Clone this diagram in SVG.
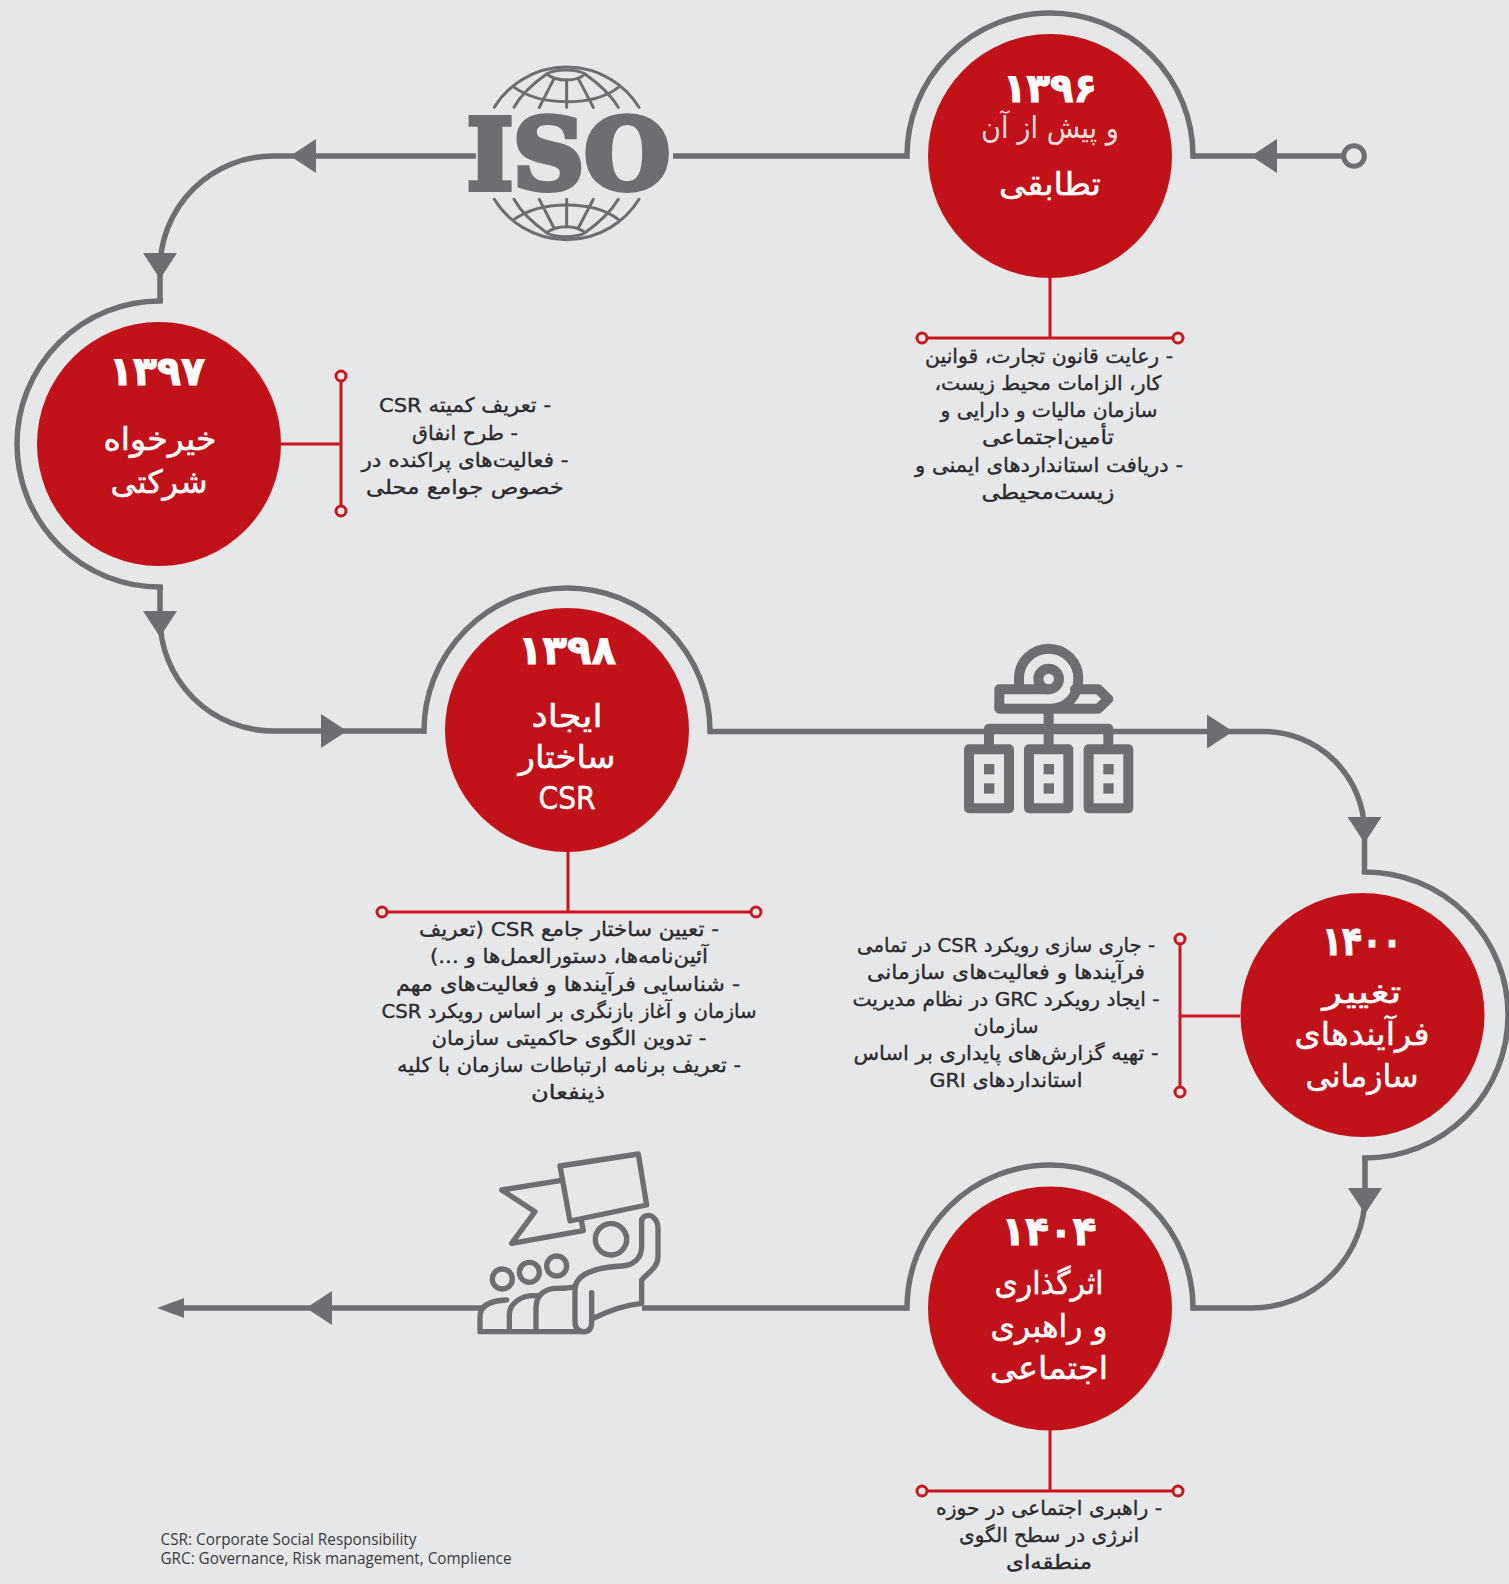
<svg xmlns="http://www.w3.org/2000/svg" width="1509" height="1584" viewBox="0 0 1509 1584">
<style>
.flow{fill:none;stroke:#6d6e71;stroke-width:5.5}
.arc{fill:none;stroke:#6d6e71;stroke-width:5.5;stroke-linecap:square}
.head{fill:#6d6e71}
.disc{fill:#c1121a}
.rl{fill:none;stroke:#c8161d;stroke-width:3}
.rd{fill:#e6e7e8;stroke:#c8161d;stroke-width:3}
text{font-family:"DejaVu Sans","Noto Sans",sans-serif}
.b{font-size:20px;fill:#2b2a2e;stroke:#2b2a2e;stroke-width:.35;direction:rtl;text-anchor:middle}
.t{font-size:32px;fill:#fff;stroke:#fff;stroke-width:.5;direction:rtl;text-anchor:middle}
.y{font-size:40px;font-weight:bold;fill:#fff;stroke:#fff;stroke-width:1;text-anchor:middle}
.l{font-size:30px;fill:#f7dcdd;direction:rtl;text-anchor:middle}
.n{font-family:"Open Sans","Noto Sans",sans-serif;font-size:15.5px;fill:#3a3a3c}
.ico{fill:none;stroke:#6d6e71;stroke-linejoin:round;stroke-linecap:round}
.sq{fill:#6d6e71}
</style>
<defs>
<path id="ah" d="M0 0L-26-17V17Z"/>
</defs>
<rect width="1509" height="1584" fill="#e6e7e8"/>

<g id="connectors">
<path class="flow" d="M1193 156H1345"/>
<path class="flow" d="M673 156H907"/>
<path class="flow" d="M476 156H273A113 113 0 0 0 160 269V303"/>
<path class="flow" d="M160 585V618A113 113 0 0 0 273 731H426"/>
<path class="flow" d="M708 731.5H1263A101 101 0 0 1 1364.500 832V874"/>
<path class="flow" d="M1365 1156V1195A113 113 0 0 1 1252 1308H1193"/>
<path class="flow" d="M907 1308H642M483 1308H166"/>
<use href="#ah" class="head" transform="translate(1251 156) rotate(180)"/>
<use href="#ah" class="head" transform="translate(290 156) rotate(180)"/>
<use href="#ah" class="head" transform="translate(160 279) rotate(90)"/>
<use href="#ah" class="head" transform="translate(160 637) rotate(90)"/>
<use href="#ah" class="head" transform="translate(347 731)"/>
<use href="#ah" class="head" transform="translate(1233 731.500)"/>
<use href="#ah" class="head" transform="translate(1364.500 843) rotate(90)"/>
<use href="#ah" class="head" transform="translate(1365 1214) rotate(90)"/>
<use href="#ah" class="head" transform="translate(306 1308) rotate(180)"/>
<path class="head" d="M157 1308L184 1298V1318Z"/>
<circle cx="1354" cy="156" r="10.3" fill="#e6e7e8" stroke="#6d6e71" stroke-width="5"/>
</g>

<g id="iso">
<g class="ico" transform="translate(440 50) scale(.3333)" stroke-width="9" stroke-linecap="butt">
<g>
<path d="M163 172A255 255 0 0 1 597 172"/>
<path d="M320 72C350 96 410 96 435 72M320 72C345 56 410 56 435 72"/>
<path d="M220 110C300 170 460 170 535 112"/>
<path d="M380 90V172M342 86L298 172M415 86L460 172M320 72C280 100 245 130 222 172M435 72C475 100 510 130 535 172"/>
</g>
<g transform="translate(0 620) scale(1 -1)">
<path d="M163 172A255 255 0 0 1 597 172"/>
<path d="M320 72C350 96 410 96 435 72M320 72C345 56 410 56 435 72"/>
<path d="M220 110C300 170 460 170 535 112"/>
<path d="M380 90V172M342 86L298 172M415 86L460 172M320 72C280 100 245 130 222 172M435 72C475 100 510 130 535 172"/>
</g>
</g>
<text x="568.5" y="189" font-weight="bold" font-size="97" fill="#6d6e71" stroke="#6d6e71" stroke-width="6" stroke-linejoin="miter" text-anchor="middle" textLength="203" lengthAdjust="spacingAndGlyphs" style="font-family:'DejaVu Serif',serif">ISO</text>
</g>

<g id="icon-org" transform="translate(940 630) scale(.3333)">
<g class="ico" stroke-width="30" stroke-linecap="butt" stroke-linejoin="miter">
<path d="M237 178V145A89 89 0 1 1 415 145C415 200 380 236 330 236H178V178H326"/>
<circle cx="326" cy="147" r="31"/>
<path d="M405 178H475L505 207L475 236H345"/>
<path d="M326 250V296M147 343V296H505V343M326 296V343"/>
<rect x="87" y="358" width="120" height="177"/>
<rect x="267" y="358" width="118" height="177"/>
<rect x="446" y="358" width="119" height="177"/>
</g>
<g class="sq">
<rect x="132" y="402" width="31" height="31"/><rect x="132" y="460" width="31" height="31"/>
<rect x="311" y="402" width="31" height="31"/><rect x="311" y="460" width="31" height="31"/>
<rect x="490" y="402" width="31" height="31"/><rect x="490" y="460" width="31" height="31"/>
</g>
</g>

<g id="icon-people" transform="translate(460 1140) scale(.3333)">
<g class="ico" stroke-width="16">
<path d="M300 78L535 42L560 195L330 243Z"/>
<path d="M300 122L125 150L225 215L155 310L370 272L365 245"/>
<circle cx="453" cy="298" r="47"/>
<circle cx="127" cy="417" r="30"/><circle cx="208" cy="397" r="30"/><circle cx="290" cy="378" r="30"/>
<path d="M545 240C550 225 570 222 580 232C590 240 594 250 594 265V350C594 385 560 400 545 420V490C490 495 440 515 395 537"/>
<path d="M545 240V320C545 355 520 376 485 378C420 382 345 395 345 450V545C345 565 355 575 372 575C390 575 395 560 395 545V458"/>
<path d="M372 575H60V530C60 500 85 482 140 480"/>
<path d="M148 572V525C148 490 185 462 235 468"/>
<path d="M228 572V505C228 465 255 445 290 445C310 445 330 445 345 440"/>
</g>
</g>

<g id="node-1396">
<path class="arc" d="M907 156A143 143 0 0 1 1193 156"/>
<circle class="disc" cx="1050" cy="156" r="122"/>
<text class="y" x="1050" y="102" textLength="94" lengthAdjust="spacingAndGlyphs">۱۳۹۶</text>
<text class="l" x="1050" y="138" textLength="138" lengthAdjust="spacingAndGlyphs">و پیش از آن</text>
<text class="t" x="1050" y="195" textLength="102" lengthAdjust="spacingAndGlyphs">تطابقی</text>
<path class="rl" d="M1050 278V338M922 338H1178"/>
<circle class="rd" cx="922" cy="338" r="5"/><circle class="rd" cx="1178" cy="338" r="5"/>
<text class="b" x="1049" y="363" textLength="248" lengthAdjust="spacingAndGlyphs">- رعایت قانون تجارت، قوانین</text>
<text class="b" x="1048" y="390" textLength="227" lengthAdjust="spacingAndGlyphs">کار، الزامات محیط زیست،</text>
<text class="b" x="1049" y="417" textLength="217" lengthAdjust="spacingAndGlyphs">سازمان مالیات و دارایی و</text>
<text class="b" x="1048" y="444" textLength="132" lengthAdjust="spacingAndGlyphs">تأمین‌اجتماعی</text>
<text class="b" x="1049" y="472" textLength="268" lengthAdjust="spacingAndGlyphs">- دریافت استانداردهای ایمنی و</text>
<text class="b" x="1048" y="499" textLength="133" lengthAdjust="spacingAndGlyphs">زیست‌محیطی</text>
</g>

<g id="node-1397">
<path class="arc" d="M160 301A143 143 0 0 0 160 587"/>
<circle class="disc" cx="159" cy="444" r="122"/>
<text class="y" x="157" y="385" textLength="96" lengthAdjust="spacingAndGlyphs">۱۳۹۷</text>
<text class="t" x="160" y="450" textLength="113" lengthAdjust="spacingAndGlyphs">خیرخواه</text>
<text class="t" x="159" y="493" textLength="97" lengthAdjust="spacingAndGlyphs">شرکتی</text>
<path class="rl" d="M281 444H341M341 376V511"/>
<circle class="rd" cx="341" cy="376" r="5"/><circle class="rd" cx="341" cy="511" r="5"/>
<text class="b" x="465" y="412" textLength="172" lengthAdjust="spacingAndGlyphs">- تعریف کمیته CSR</text>
<text class="b" x="465" y="440" textLength="106" lengthAdjust="spacingAndGlyphs">- طرح انفاق</text>
<text class="b" x="465" y="467" textLength="207" lengthAdjust="spacingAndGlyphs">- فعالیت‌های پراکنده در</text>
<text class="b" x="465" y="494" textLength="198" lengthAdjust="spacingAndGlyphs">خصوص جوامع محلی</text>
</g>

<g id="node-1398">
<path class="arc" d="M424 731A143 143 0 0 1 710 731"/>
<circle class="disc" cx="567" cy="730" r="122"/>
<text class="y" x="567" y="664" textLength="98" lengthAdjust="spacingAndGlyphs">۱۳۹۸</text>
<text class="t" x="567" y="727" textLength="71" lengthAdjust="spacingAndGlyphs">ایجاد</text>
<text class="t" x="567" y="768" textLength="97" lengthAdjust="spacingAndGlyphs">ساختار</text>
<text class="t" x="567" y="809" textLength="57" lengthAdjust="spacingAndGlyphs">CSR</text>
<path class="rl" d="M568 852V912M382 912H756"/>
<circle class="rd" cx="382" cy="912" r="5"/><circle class="rd" cx="756" cy="912" r="5"/>
<text class="b" x="569" y="936" textLength="300" lengthAdjust="spacingAndGlyphs">- تعیین ساختار جامع CSR (تعریف</text>
<text class="b" x="569" y="963" textLength="278" lengthAdjust="spacingAndGlyphs">آئین‌نامه‌ها، دستورالعمل‌ها و ...)</text>
<text class="b" x="568" y="991" textLength="344" lengthAdjust="spacingAndGlyphs">- شناسایی فرآیندها و فعالیت‌های مهم</text>
<text class="b" x="569" y="1018" textLength="375" lengthAdjust="spacingAndGlyphs">سازمان و آغاز بازنگری بر اساس رویکرد CSR</text>
<text class="b" x="569" y="1045" textLength="275" lengthAdjust="spacingAndGlyphs">- تدوین الگوی حاکمیتی سازمان</text>
<text class="b" x="569" y="1072" textLength="344" lengthAdjust="spacingAndGlyphs">- تعریف برنامه ارتباطات سازمان با کلیه</text>
<text class="b" x="568" y="1099" textLength="74" lengthAdjust="spacingAndGlyphs">ذینفعان</text>
</g>

<g id="node-1400">
<path class="arc" d="M1365 872A143 143 0 0 1 1365 1158"/>
<circle class="disc" cx="1362.500" cy="1015" r="122"/>
<text class="y" x="1362" y="955" textLength="80" lengthAdjust="spacingAndGlyphs">۱۴۰۰</text>
<text class="t" x="1362" y="1003" textLength="79" lengthAdjust="spacingAndGlyphs">تغییر</text>
<text class="t" x="1362" y="1045" textLength="135" lengthAdjust="spacingAndGlyphs">فرآیندهای</text>
<text class="t" x="1362" y="1087" textLength="113" lengthAdjust="spacingAndGlyphs">سازمانی</text>
<path class="rl" d="M1240 1016H1180M1180 939V1092"/>
<circle class="rd" cx="1180" cy="939" r="5"/><circle class="rd" cx="1180" cy="1092" r="5"/>
<text class="b" x="1006" y="952" textLength="298" lengthAdjust="spacingAndGlyphs">- جاری سازی رویکرد CSR در تمامی</text>
<text class="b" x="1006" y="979" textLength="278" lengthAdjust="spacingAndGlyphs">فرآیندها و فعالیت‌های سازمانی</text>
<text class="b" x="1006" y="1006" textLength="307" lengthAdjust="spacingAndGlyphs">- ایجاد رویکرد GRC در نظام مدیریت</text>
<text class="b" x="1006" y="1033" textLength="65" lengthAdjust="spacingAndGlyphs">سازمان</text>
<text class="b" x="1006" y="1060" textLength="305" lengthAdjust="spacingAndGlyphs">- تهیه گزارش‌های پایداری بر اساس</text>
<text class="b" x="1006" y="1087" textLength="153" lengthAdjust="spacingAndGlyphs">استانداردهای GRI</text>
</g>

<g id="node-1404">
<path class="arc" d="M907 1308A143 143 0 0 1 1193 1308"/>
<circle class="disc" cx="1050" cy="1308.500" r="122"/>
<text class="y" x="1049" y="1245" textLength="95" lengthAdjust="spacingAndGlyphs">۱۴۰۴</text>
<text class="t" x="1049" y="1294" textLength="109" lengthAdjust="spacingAndGlyphs">اثرگذاری</text>
<text class="t" x="1049" y="1337" textLength="117" lengthAdjust="spacingAndGlyphs">و راهبری</text>
<text class="t" x="1049" y="1379" textLength="118" lengthAdjust="spacingAndGlyphs">اجتماعی</text>
<path class="rl" d="M1050 1430V1491M922 1491H1178"/>
<circle class="rd" cx="922" cy="1491" r="5"/><circle class="rd" cx="1178" cy="1491" r="5"/>
<text class="b" x="1049" y="1515" textLength="226" lengthAdjust="spacingAndGlyphs">- راهبری اجتماعی در حوزه</text>
<text class="b" x="1049" y="1542" textLength="180" lengthAdjust="spacingAndGlyphs">انرژی در سطح الگوی</text>
<text class="b" x="1049" y="1569" textLength="86" lengthAdjust="spacingAndGlyphs">منطقه‌ای</text>
</g>

<g id="notes">
<text class="n" x="160.5" y="1545" textLength="256" lengthAdjust="spacingAndGlyphs">CSR: Corporate Social Responsibility</text>
<text class="n" x="160.5" y="1564" textLength="351" lengthAdjust="spacingAndGlyphs">GRC: Governance, Risk management, Complience</text>
</g>
</svg>
